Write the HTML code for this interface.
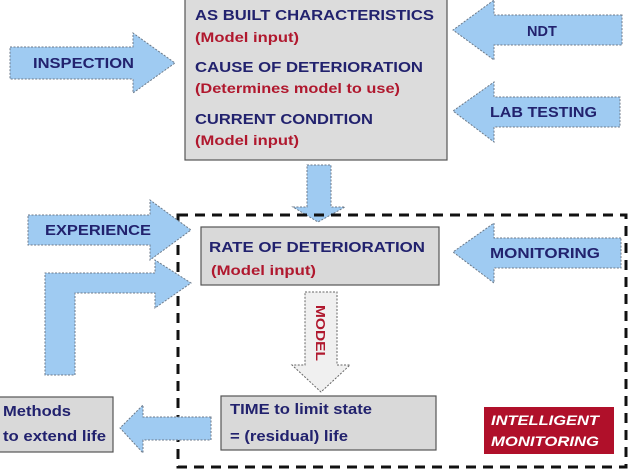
<!DOCTYPE html>
<html><head><meta charset="utf-8"><style>
html,body{margin:0;padding:0;background:#fff;}
svg{display:block;}
text{font-family:"Liberation Sans",Arial,sans-serif;font-weight:bold;}
.n{fill:#22226e;font-size:14.5px;}
.r{fill:#b0182e;font-size:13.5px;}
.a{fill:#9fcbf2;stroke:#6d7a89;stroke-width:1;stroke-dasharray:2 1.5;}
.b{fill:#d9d9d9;stroke:#555;stroke-width:1.2;}
</style></head><body>
<svg width="630" height="472" viewBox="0 0 630 472" xmlns="http://www.w3.org/2000/svg">
<rect x="0" y="0" width="630" height="472" fill="#fff"/>
<rect class="b" x="185" y="-2" width="262" height="162" style="fill:#dcdcdc"/>
<text class="n" x="195" y="20" textLength="239" lengthAdjust="spacingAndGlyphs">AS BUILT CHARACTERISTICS</text>
<text class="r" x="195" y="42" textLength="104" lengthAdjust="spacingAndGlyphs">(Model input)</text>
<text class="n" x="195" y="72" textLength="228" lengthAdjust="spacingAndGlyphs">CAUSE OF DETERIORATION</text>
<text class="r" x="195" y="93" textLength="205" lengthAdjust="spacingAndGlyphs">(Determines model to use)</text>
<text class="n" x="195" y="124" textLength="178" lengthAdjust="spacingAndGlyphs">CURRENT CONDITION</text>
<text class="r" x="195" y="145" textLength="104" lengthAdjust="spacingAndGlyphs">(Model input)</text>
<polygon class="a" points="622,15 494,15 494,0 453,30 494,60 494,45 622,45"/>
<text class="n" x="527" y="36">NDT</text>
<polygon class="a" points="620,97 494,97 494,82 453,111 494,142 494,127 620,127"/>
<text class="n" x="490" y="117" textLength="107" lengthAdjust="spacingAndGlyphs">LAB TESTING</text>
<polygon class="a" points="10,47 133,47 133,33 175,63 133,93 133,79 10,79"/>
<text class="n" x="33" y="68" textLength="101" lengthAdjust="spacingAndGlyphs">INSPECTION</text>
<polygon class="a" points="307,165 331,165 331,207 345,207 318,222 293,207 307,207"/>
<rect x="178" y="215" width="448" height="252" fill="none" stroke="#111" stroke-width="3" stroke-dasharray="10 7"/>
<polygon class="a" points="28,215 150,215 150,200 191,230 150,260 150,245 28,245"/>
<text class="n" x="45" y="235" textLength="106" lengthAdjust="spacingAndGlyphs">EXPERIENCE</text>
<polygon class="a" points="45,375 45,273 155,273 155,260 191,283 155,308 155,293 75,293 75,375"/>
<rect class="b" x="201" y="227" width="238" height="58"/>
<text class="n" x="209" y="252" textLength="216" lengthAdjust="spacingAndGlyphs">RATE OF DETERIORATION</text>
<text class="r" x="211" y="275" textLength="105" lengthAdjust="spacingAndGlyphs">(Model input)</text>
<polygon class="a" points="621,238 494,238 494,223 453,252 494,283 494,268 621,268"/>
<text class="n" x="490" y="258" textLength="110" lengthAdjust="spacingAndGlyphs">MONITORING</text>
<polygon points="305,292 337,292 337,365 350,365 321,392 292,365 305,365" fill="#f0f0f0" stroke="#666" stroke-width="1" stroke-dasharray="2 1.5"/>
<text x="0" y="0" transform="translate(316,305) rotate(90)" style="fill:#b0182e;font-size:13px" textLength="56" lengthAdjust="spacingAndGlyphs">MODEL</text>
<rect class="b" x="221" y="396" width="215" height="54"/>
<text class="n" x="230" y="414" textLength="142" lengthAdjust="spacingAndGlyphs">TIME to limit state</text>
<text class="n" x="230" y="441" textLength="118" lengthAdjust="spacingAndGlyphs">= (residual) life</text>
<polygon class="a" points="211,417 143,417 143,405 120,428 143,453 143,440 211,440"/>
<rect class="b" x="-2" y="397" width="115" height="55"/>
<text class="n" x="3" y="416" textLength="68" lengthAdjust="spacingAndGlyphs">Methods</text>
<text class="n" x="3" y="441" textLength="103" lengthAdjust="spacingAndGlyphs">to extend life</text>
<rect x="484" y="407" width="130" height="47" fill="#b0102a"/>
<text x="491" y="425" style="fill:#fff;font-size:14px;font-style:italic" textLength="108" lengthAdjust="spacingAndGlyphs">INTELLIGENT</text>
<text x="491" y="446" style="fill:#fff;font-size:14px;font-style:italic" textLength="108" lengthAdjust="spacingAndGlyphs">MONITORING</text>
</svg>
</body></html>
